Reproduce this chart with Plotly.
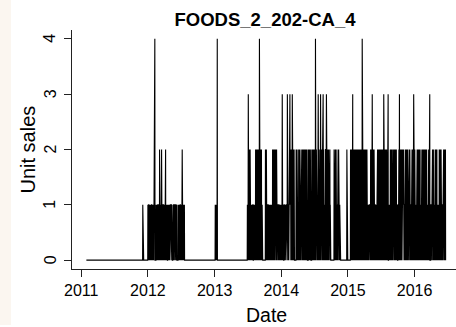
import calendar
import datetime as dt

import plotly.graph_objects as go

title_text = "FOODS_2_202-CA_4"
x_label = "Date"
y_label = "Unit sales"
first_day = dt.date(2011, 1, 29)
last_day = dt.date(2016, 6, 19)
year_ticks = [2011, 2012, 2013, 2014, 2015, 2016]
unit_ticks = [0, 1, 2, 3, 4]

# Daily unit sales, one digit per day (spaces only group the digits),
# keyed by month. Months that are not listed had no sales at all.
sales_2011 = {
    12: "0001000000 0000000000 0000000000 0",
}
sales_2012 = {
    1: "1010110100 1011010010 1101001011 0",
    2: "1010101400 0000101101 010110101",
    3: "1010200110 1010120101 1010011010 1",
    4: "0101012010 1101010011 0101101010",
    5: "1011010110 0000001010 1101011010 1",
    6: "0110101000 0000101101 0101011010",
    7: "1010112010 1101011010 0000000000 0",
}
sales_2013 = {
    1: "0001011010 1101400000 0000000000 0",
    6: "0000000000 0000000000 0000000010",
    7: "1013020120 2012021010 1101001011 0",
    8: "0101101010 1020120201 2021020120 2",
    9: "0140210201 2012010100 0000000000",
    10: "0000020120 2010110101 1010010110 1",
    11: "0110101101 0102012020 1202102012",
    12: "0201021010 1101010110 1011010010 1",
}
sales_2014 = {
    1: "1010130101 1010011010 1101010110 1",
    2: "0130101011 0101013101 20120210",
    3: "1302012020 1210000000 0020210201 0",
    4: "2012020120 2021010101 0120201202",
    5: "1020120201 2012021020 1200000012 0",
    6: "1020210120 1000002012 0201202102",
    7: "0201204020 1202010101 2302012021 0",
    8: "1023020120 2010202310 2012010110 2",
    9: "2010302012 0201202010 2012010000",
    10: "0000000000 0000002010 2012010201 0",
    11: "1010110201 2010201000 0000000000",
    12: "0000000000 0000000000 0000020000 0",
}
sales_2015 = {
    1: "0000000000 0000201202 0120023020 1",
    2: "2012020102 0210201202 01202102",
    3: "0201202012 0210202104 0120210201 2",
    4: "0201202102 0120201010 1101010110",
    5: "1010201202 0123020120 2012101011 0",
    6: "1101011010 0201202012 0210201202",
    7: "0120210201 2020130201 2012020120 1",
    8: "2010201230 0100000120 2012021020 1",
    9: "2010201202 1020120201 2021010110",
    10: "0110202013 0201202102 0120201021 0",
    11: "2010110101 2020102012 0201201010",
    12: "1012020101 1102010201 2020123020 1",
}
sales_2016 = {
    1: "0201011010 1210201202 0120201201 2",
    2: "0101101102 0120201202 012020120",
    3: "1202012010 1010120201 2013000001 1",
    4: "1010101202 0120110101 2020120102",
    5: "0201011010 0000201202 0120201201 1",
    6: "1010201202 012020120",
}

yearly_sales = {
    2011: sales_2011,
    2012: sales_2012,
    2013: sales_2013,
    2014: sales_2014,
    2015: sales_2015,
    2016: sales_2016,
}

# expand the month strings into one value per calendar day
dates, units = [], []
day = first_day
while day <= last_day:
    month_digits = yearly_sales[day.year].get(day.month)
    if month_digits is None:
        value = 0
    else:
        digits = month_digits.replace(" ", "")
        expected = calendar.monthrange(day.year, day.month)[1]
        if (day.year, day.month) == (last_day.year, last_day.month):
            expected = last_day.day
        assert len(digits) == expected, (day.year, day.month, len(digits), expected)
        value = int(digits[day.day - 1])
    dates.append(day)
    units.append(value)
    day += dt.timedelta(days=1)

W, H = 456, 327
margin_l, margin_t, margin_b = 72, 30, 58
plot_w = W - margin_l
plot_h = H - margin_t - margin_b

# axis ranges padded by 4% of the data span on both ends
span = (last_day - first_day).days
pad = 0.04 * span
x_start = dt.datetime.combine(first_day, dt.time()) - dt.timedelta(days=pad)
x_full_end = dt.datetime.combine(last_day, dt.time()) + dt.timedelta(days=pad)
full_days = (x_full_end - x_start).total_seconds() / 86400
x_end = x_start + dt.timedelta(days=full_days * plot_w / 388.0)
y_pad = 0.04 * (max(unit_ticks) - min(unit_ticks))

font_family = "Liberation Sans, Arial, Helvetica, sans-serif"
axis_color = "#222222"

fig = go.Figure(
    go.Scatter(
        x=dates,
        y=units,
        mode="lines",
        line=dict(color="black", width=1.1),
        hoverinfo="skip",
    )
)

# y tick labels are written parallel to the axis, like base R graphics
y_tick_labels = [
    dict(
        text=str(v),
        xref="paper",
        yref="y",
        x=0,
        y=v,
        xanchor="center",
        yanchor="middle",
        xshift=-(margin_l - 50),
        textangle=-90,
        showarrow=False,
        font=dict(family=font_family, size=16, color="black"),
    )
    for v in unit_ticks
]

fig.update_layout(
    width=W,
    height=H,
    margin=dict(l=margin_l, r=0, t=margin_t, b=margin_b, pad=0),
    paper_bgcolor="white",
    plot_bgcolor="white",
    showlegend=False,
    font=dict(family=font_family, color="black", size=16),
    title=dict(
        text="<b>" + title_text + "</b>",
        x=265 / W,
        xanchor="center",
        xref="container",
        y=1 - 20 / H,
        yanchor="middle",
        yref="container",
        font=dict(family=font_family, size=18.5, color="black"),
    ),
    xaxis=dict(
        range=[x_start, x_end],
        tickvals=[dt.date(y, 1, 1) for y in year_ticks],
        ticktext=[str(y) for y in year_ticks],
        showgrid=False,
        zeroline=False,
        showline=True,
        linecolor=axis_color,
        linewidth=1,
        ticks="outside",
        ticklen=7,
        tickwidth=1,
        tickcolor=axis_color,
        tickfont=dict(size=16),
        ticklabelstandoff=0,
    ),
    yaxis=dict(
        range=[min(unit_ticks) - y_pad, max(unit_ticks) + y_pad],
        tickvals=unit_ticks,
        showticklabels=False,
        showgrid=False,
        zeroline=False,
        showline=True,
        linecolor=axis_color,
        linewidth=1,
        ticks="outside",
        ticklen=7,
        tickwidth=1,
        tickcolor=axis_color,
    ),
    shapes=[
        dict(
            type="rect",
            xref="paper",
            yref="paper",
            x0=-margin_l / plot_w,
            x1=(11 - margin_l) / plot_w,
            y0=(H - margin_b - 325) / plot_h,
            y1=(H - margin_b) / plot_h + margin_t / plot_h,
            fillcolor="#fbf6f0",
            line=dict(width=0),
            layer="below",
        )
    ],
    annotations=y_tick_labels
    + [
        dict(
            text=x_label,
            xref="paper",
            yref="paper",
            x=(266 - margin_l) / plot_w,
            y=0,
            xanchor="center",
            yanchor="middle",
            yshift=-(314.5 - (H - margin_b)),
            showarrow=False,
            font=dict(family=font_family, size=19.5, color="black"),
        ),
        dict(
            text=y_label,
            xref="paper",
            yref="paper",
            x=0,
            y=0.5,
            xanchor="center",
            yanchor="middle",
            xshift=-(margin_l - 27.5),
            yshift=(margin_t + plot_h / 2) - 150,
            textangle=-90,
            showarrow=False,
            font=dict(family=font_family, size=20, color="black"),
        ),
    ],
)

fig.write_html("out.html")
